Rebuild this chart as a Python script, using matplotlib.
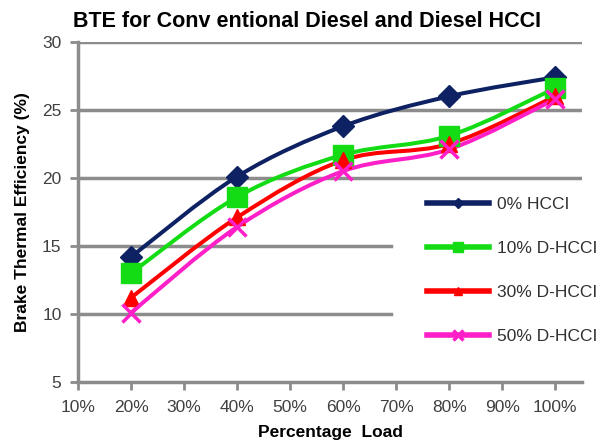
import numpy as np
import matplotlib.pyplot as plt
from matplotlib.path import Path
from matplotlib.patches import PathPatch
from matplotlib.lines import Line2D

plt.rcParams['font.family'] = ['Liberation Sans', 'DejaVu Sans']

# データ
loads = [20, 40, 60, 80, 100]
bte_0 = [14.2, 20.1, 23.8, 26.0, 27.4]
bte_10 = [13.0, 18.6, 21.7, 23.1, 26.6]
bte_30 = [11.2, 17.1, 21.3, 22.5, 26.0]
bte_50 = [10.1, 16.4, 20.5, 22.1, 25.8]
labels = ['0% HCCI', '10% D-HCCI', '30% D-HCCI', '50% D-HCCI']
x_ticks = [10, 20, 30, 40, 50, 60, 70, 80, 90, 100]
y_ticks = [5, 10, 15, 20, 25, 30]

series = [
    (bte_0, '#0d2163', 'D', 11),
    (bte_10, '#14dc14', 's', 14),
    (bte_30, '#ff0000', '^', 12),
    (bte_50, '#ff1fc8', 'x', 13),
]


def smooth_path(xs, ys):
    # Excel風のスムージング（ベジェ曲線）
    pts = np.column_stack([xs, ys]).astype(float)
    verts = [pts[0]]
    codes = [Path.MOVETO]
    n = len(pts)
    for i in range(n - 1):
        p0 = pts[max(i - 1, 0)]
        p1 = pts[i]
        p2 = pts[i + 1]
        p3 = pts[min(i + 2, n - 1)]
        c1 = p1 + (p2 - p0) / 6
        c2 = p2 - (p3 - p1) / 6
        verts += [c1, c2, p2]
        codes += [Path.CURVE4] * 3
    return Path(verts, codes)


fig = plt.figure(figsize=(6.06, 4.41), dpi=100)
ax = fig.add_axes([0.129, 0.134, 0.831, 0.771])

gray = '#8c8c8c'
# 凡例の後ろのグリッド線は途中で切れる
for y in y_ticks[1:]:
    xmax = 0.622 if y < 20 else 1.0
    ax.axhline(y, xmax=xmax, color=gray, linewidth=2.5, zorder=1)

handles = []
for vals, col, mk, ms in series:
    ax.add_patch(PathPatch(smooth_path(loads, vals), facecolor='none',
                           edgecolor=col, linewidth=2.9, zorder=3))
    mew = 2.5 if mk == 'x' else 1
    ax.plot(loads, vals, linestyle='none', marker=mk, markersize=ms,
            color=col, markeredgewidth=mew, zorder=4)
    handles.append(Line2D([], [], color=col, linewidth=4, marker=mk,
                          markersize=ms * 0.5, markeredgewidth=mew))

ax.set_xlim(10, 105)
ax.set_ylim(5, 30)
ax.set_xticks(x_ticks)
ax.set_xticklabels([f'{t}%' for t in x_ticks])
ax.set_yticks(y_ticks)

for s in ['top', 'right']:
    ax.spines[s].set_visible(False)
for s in ['left', 'bottom']:
    ax.spines[s].set_color(gray)
    ax.spines[s].set_linewidth(2.5)
ax.tick_params(axis='both', colors=gray, width=2, length=6,
               labelsize=12.5, labelcolor='#404040')
ax.tick_params(axis='x', pad=7)
ax.tick_params(axis='y', pad=6)

ax.set_title('BTE for Conv entional Diesel and Diesel HCCI',
             fontsize=15.5, fontweight='bold', pad=11, x=0.454)
ax.set_xlabel('Percentage  Load', fontsize=12.5, fontweight='bold')
ax.xaxis.set_label_coords(0.5, -0.128)
ax.set_ylabel('Brake Thermal Efficiency (%)', fontsize=12.5,
              fontweight='bold')
ax.yaxis.set_label_coords(-0.095, 0.5)

leg = fig.legend(handles, labels, loc='upper left',
                 bbox_to_anchor=(411 / 606, 1 - 181 / 441),
                 frameon=False, fontsize=12.5, handlelength=3.6,
                 labelspacing=1.66, borderpad=0.4, handletextpad=0.45)
for t in leg.get_texts():
    t.set_color('#303030')

fig.savefig('out.png', dpi=100)
